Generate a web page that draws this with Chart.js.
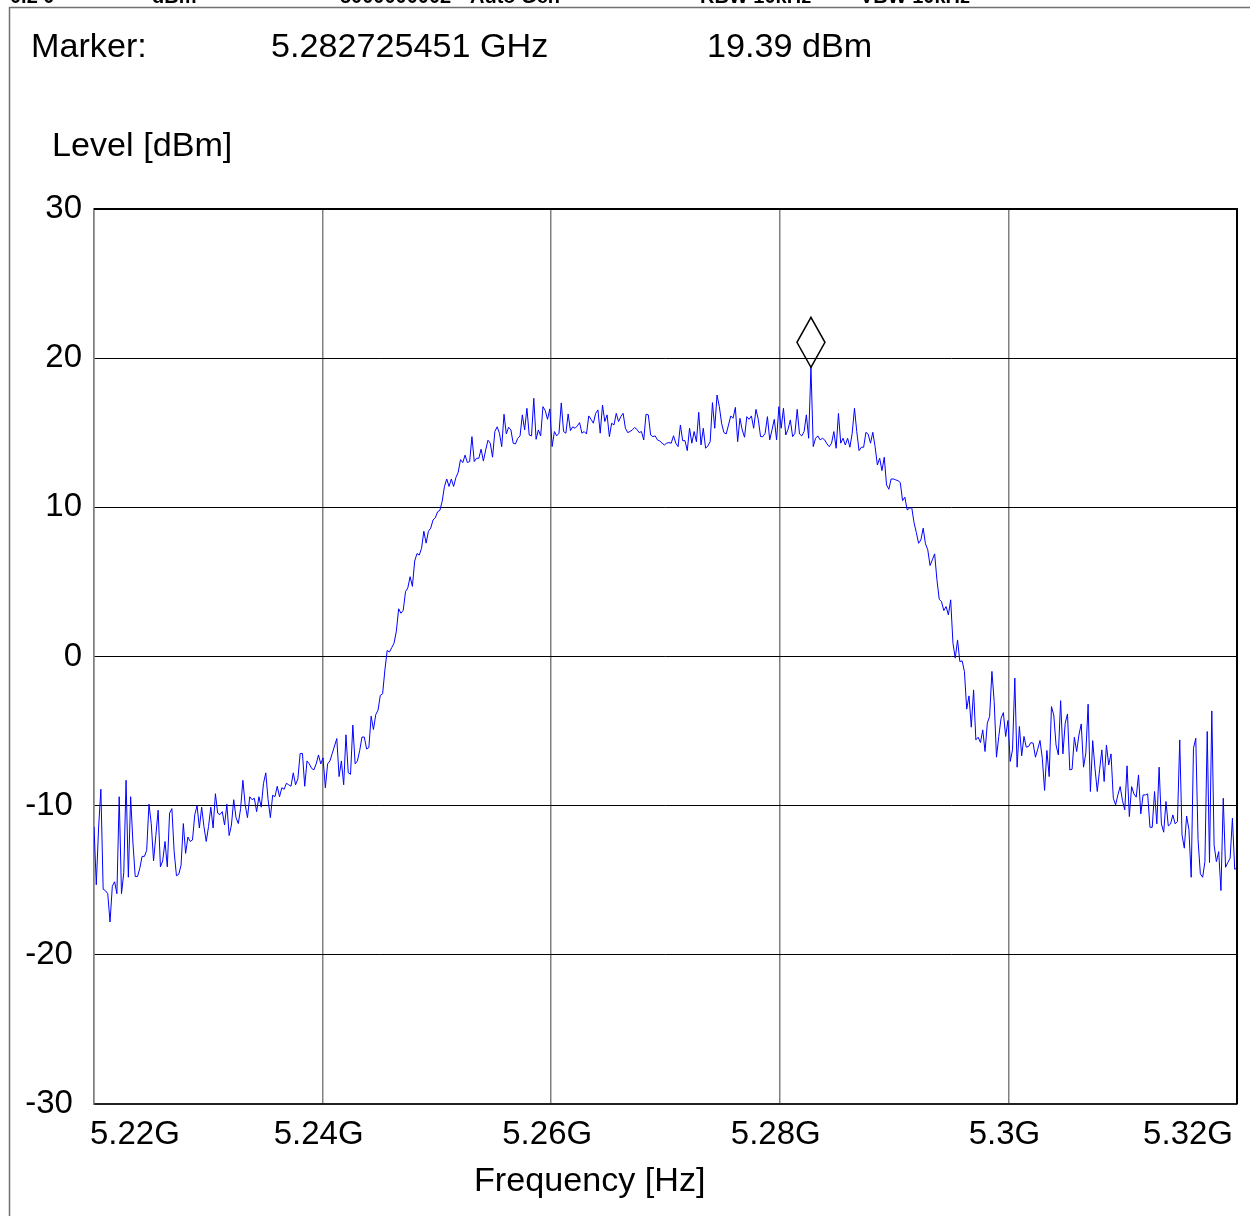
<!DOCTYPE html>
<html>
<head>
<meta charset="utf-8">
<title>Spectrum</title>
<script src="https://cdn.jsdelivr.net/npm/chart.js@4.4.1/dist/chart.umd.min.js"></script>
<style>
  html, body { margin: 0; padding: 0; background: #fff; }
  #wrap { position: relative; width: 1250px; height: 1216px; }
</style>
</head>
<body>
<div id="wrap"><canvas id="spectrum"></canvas></div>
<script>
// sweep: 500 points from 5.22 GHz to 5.32 GHz
var startGHz = 5.22;
var stopGHz = 5.32;
var sweepPoints = 500;

// marker
var markerIndex = 313;
var markerFreqText = '5.282725451 GHz';
var markerLevelText = '19.39 dBm';

// ticks
var xTickValues = [5.22, 5.24, 5.26, 5.28, 5.30, 5.32];
var xTickLabels = ['5.22G', '5.24G', '5.26G', '5.28G', '5.3G', '5.32G'];
var yTickValues = [-30, -20, -10, 0, 10, 20, 30];
var yTickLabels = ['-30', '-20', '-10', '0', '10', '20', '30'];

// level trace in dBm
var levelDbm = [
  -11.4, -15.3, -11.5, -8.9, -15.6, -15.7, -15.9, -17.8, -15.4, -15.1,
  -15.9, -9.4, -15.9, -14.5, -8.3, -14.8, -9.4, -12.5, -14.75, -14.75,
  -14.2, -13.4, -13.4, -13.0, -9.9, -11.2, -13.7, -12.0, -10.3, -14.1,
  -13.7, -12.4, -14.1, -10.5, -10.2, -13.1, -14.7, -14.6, -14.0, -11.2,
  -13.2, -12.1, -12.4, -12.3, -10.6, -10.0, -11.5, -10.1, -11.4, -12.4,
  -11.4, -10.1, -11.5, -9.2, -10.5, -10.6, -10.4, -11.3, -9.9, -12.0,
  -11.3, -9.6, -10.8, -11.2, -10.2, -8.3, -9.95, -10.8, -9.4, -9.6,
  -9.5, -10.4, -9.4, -10.1, -8.5, -7.8, -9.6, -10.8, -9.3, -9.4,
  -8.7, -9.4, -8.8, -8.9, -8.5,
  -8.6, -8.7, -7.8, -8.6, -8.2, -6.5, -6.5, -8.7, -7.0, -7.2,
  -7.5, -7.6, -7.2, -6.6, -7.2, -6.8, -8.8, -7.2, -7.0, -6.5,
  -6.0, -5.5, -8.05, -7.0, -8.6, -5.25, -7.8, -7.9, -4.6, -7.2,
  -7.0, -6.3, -5.4, -5.4, -6.2, -6.1, -4.0, -4.9, -3.9, -3.6,
  -2.6, -2.5, -0.9, 0.4, 0.3, 0.6, 0.9, 1.7, 3.2, 2.9,
  3.1, 4.35, 4.6, 5.35, 4.7, 6.4, 6.9, 6.8, 7.25, 8.4,
  7.6, 8.4, 8.6, 9.15, 9.3, 9.7, 9.8, 10.4, 11.4, 11.9,
  11.4, 11.9, 11.4, 12.0, 12.35, 13.2, 13.0, 13.5, 13.0,
  13.07, 14.74, 13.07, 13.29, 13.29, 13.9, 13.1, 13.85, 14.5, 14.3,
  13.36, 15.08, 15.4, 14.97, 14.07, 16.24, 14.92, 15.37, 15.19, 14.3,
  14.25, 14.63, 14.79, 16.2, 15.19, 16.64, 14.85, 14.79, 17.31, 14.56,
  15.19, 14.79, 16.75, 16.48, 15.9, 16.6, 14.07, 15.08, 14.79, 14.97,
  17.0, 15.08, 14.97, 16.26, 15.14, 15.4, 15.3, 15.46, 15.68, 14.97,
  15.08, 14.92, 16.13, 15.9, 15.64, 16.3, 16.53, 14.97, 16.86, 15.75,
  16.2, 14.74, 15.64, 15.52, 16.3, 15.75, 16.08, 16.3, 15.3, 15.01,
  15.08, 15.19, 15.35, 15.23, 15.01, 15.08, 14.52, 16.24, 16.2, 14.85,
  14.74, 14.79, 14.52, 14.45,
  14.3, 14.18, 14.3, 14.34, 14.3, 14.8, 14.3, 14.07, 15.52, 14.47,
  14.47, 13.8, 15.3, 14.3, 15.08, 14.4, 16.37, 14.18, 15.3, 13.96,
  14.12, 14.4, 17.02, 15.3, 17.53, 16.75, 15.63, 15.01, 14.92, 15.52,
  16.13, 15.97, 16.7, 14.4, 15.97, 15.19, 14.7, 16.08, 15.9, 16.13,
  15.3, 16.57, 15.9, 14.74, 14.74, 14.96, 16.08, 14.52, 15.19, 15.9,
  14.52, 16.75, 15.3, 16.64, 14.85, 15.23, 15.86, 14.74, 14.96, 16.57,
  14.92, 14.79, 15.08, 16.2, 14.63, 19.39,
  14.07, 14.63, 14.79, 14.52, 14.63, 14.52, 14.25, 14.07, 14.3, 15.08,
  13.96, 16.3, 14.3, 14.63, 14.18, 14.63, 14.03, 14.96, 16.64,
  15.08, 13.8, 14.03, 14.03, 15.03, 14.9, 14.3, 15.03, 14.07, 12.84,
  13.29, 12.46, 13.36, 11.5, 11.21, 11.9, 11.9, 11.84, 11.79, 11.66,
  10.45, 10.68, 9.83, 9.94, 9.98, 8.98, 8.31, 7.59, 7.82, 8.6,
  7.55, 7.15, 6.1, 6.48, 6.88, 5.14, 3.84, 3.68, 3.08, 3.35,
  2.79, 3.8, 0.89, -0.11, 1.11, -0.34, -0.29, -1.0, -3.53, -2.64,
  -4.74, -2.24, -5.59, -5.41, -5.77, -4.92, -6.37, -4.47, -4.02, -1.0,
  -3.02, -6.75, -5.36, -4.14, -3.76, -5.36, -4.29, -7.04, -6.26, -1.45,
  -7.42, -4.69, -6.66, -5.36, -6.08, -6.03, -5.77, -5.81, -6.75, -6.21,
  -5.63, -6.82, -8.98, -6.3,
  -8.05, -3.36, -3.92, -5.93, -6.6, -2.96, -6.53, -4.47, -3.85, -7.6,
  -7.56, -5.41, -6.37, -5.26, -4.52, -7.42, -6.48, -3.2, -9.05, -5.64,
  -7.49, -9.05, -7.6, -6.26, -8.38, -5.93, -7.27, -6.53, -9.5, -9.95,
  -9.28, -8.72, -9.66, -10.28, -7.33, -10.73, -8.72, -9.21, -9.43, -7.94,
  -10.55, -9.28, -9.28, -9.21, -11.45, -11.45, -9.05, -11.22, -7.42, -11.22,
  -11.78, -9.72, -11.36, -11.22, -10.62, -11.22, -11.06, -5.59, -11.96, -12.85,
  -10.69, -11.58, -14.8, -6.15, -5.48, -12.29, -14.57, -14.8, -13.75, -5.03,
  -13.81, -3.65, -12.63, -13.75, -13.08, -15.69, -9.5, -14.13, -13.81, -13.52,
  -10.84, -14.26, -14.19
];

var fontFamily = '"Liberation Sans", Arial, sans-serif';
var stepGHz = (stopGHz - startGHz) / (sweepPoints - 1);
var points = levelDbm.map(function(v, i) {
  return { x: startGHz + i * stepGHz, y: v };
});

// the instrument font is a little wider than Liberation Sans
function wideText(ctx, text, x, y) {
  ctx.save();
  ctx.translate(x, y);
  ctx.scale(1.035, 1);
  ctx.fillText(text, 0, 0);
  ctx.restore();
}

// frame, header, marker readout, axis titles and the marker diamond
var spectrumDecor = {
  id: 'spectrumDecor',
  afterDraw: function(chart) {
    var ctx = chart.ctx;
    var a = chart.chartArea;
    ctx.save();

    // outer frame (only left and top visible)
    ctx.strokeStyle = '#707070';
    ctx.lineWidth = 1.5;
    ctx.beginPath();
    ctx.moveTo(9.5, 1216);
    ctx.lineTo(9.5, 7.5);
    ctx.lineTo(1250, 7.5);
    ctx.stroke();

    // top and right border of the plot
    ctx.strokeStyle = '#000';
    ctx.lineWidth = 2;
    ctx.beginPath();
    ctx.moveTo(a.left, a.top);
    ctx.lineTo(a.right, a.top);
    ctx.lineTo(a.right, a.bottom);
    ctx.stroke();

    // header line, cut off at the top of the page
    ctx.fillStyle = '#000';
    ctx.textBaseline = 'alphabetic';
    ctx.textAlign = 'left';
    ctx.font = 'bold 20px ' + fontFamily;
    ctx.fillText('0.2 0', 10, 3);
    ctx.fillText('dBm', 152, 3);
    ctx.fillText('5000000002', 340, 3);
    ctx.fillText('Auto Gen', 470, 3);
    ctx.fillText('RBW 10kHz', 700, 3);
    ctx.fillText('VBW 10kHz', 860, 3);

    ctx.font = '33px ' + fontFamily;
    wideText(ctx, 'Marker:', 31, 57);
    wideText(ctx, markerFreqText, 271, 57);
    wideText(ctx, markerLevelText, 707, 57);
    wideText(ctx, 'Level [dBm]', 52, 156);
    wideText(ctx, 'Frequency [Hz]', 474, 1191);

    // marker diamond sitting on the peak
    var px = chart.scales.x.getPixelForValue(points[markerIndex].x);
    var py = chart.scales.y.getPixelForValue(points[markerIndex].y);
    ctx.strokeStyle = '#000';
    ctx.lineWidth = 1.5;
    ctx.beginPath();
    ctx.moveTo(px, py);
    ctx.lineTo(px + 14, py - 25);
    ctx.lineTo(px, py - 50);
    ctx.lineTo(px - 14, py - 25);
    ctx.closePath();
    ctx.stroke();

    ctx.restore();
  }
};

var ctx = document.getElementById('spectrum').getContext('2d');
var spectrumChart = new Chart(ctx, {
  type: 'line',
  data: {
    datasets: [{
      label: 'Level',
      data: points,
      borderColor: '#0000ff',
      borderWidth: 1,
      pointRadius: 0,
      tension: 0,
      fill: false
    }]
  },
  options: {
    responsive: true,
    maintainAspectRatio: false,
    animation: false,
    layout: { padding: { left: 0, right: 13, top: 209, bottom: 52 } },
    plugins: {
      legend: { display: false },
      tooltip: { enabled: false }
    },
    scales: {
      x: {
        type: 'linear',
        min: startGHz,
        max: stopGHz,
        afterBuildTicks: function(scale) {
          scale.ticks = xTickValues.map(function(v) { return { value: v }; });
        },
        afterFit: function(scale) { scale.height = 60; },
        ticks: {
          autoSkip: false,
          maxRotation: 0,
          align: 'inner',
          labelOffset: -4,
          padding: 11,
          color: '#000',
          font: { family: fontFamily, size: 33 },
          callback: function(value, index) { return xTickLabels[index]; }
        },
        grid: { color: '#808080', lineWidth: 1.5, drawTicks: false },
        border: { color: '#222', width: 2 }
      },
      y: {
        min: -30,
        max: 30,
        afterBuildTicks: function(scale) {
          scale.ticks = yTickValues.map(function(v) { return { value: v }; });
        },
        afterFit: function(scale) { scale.width = 94; },
        ticks: {
          padding: 12,
          color: '#000',
          font: { family: fontFamily, size: 33 },
          callback: function(value, index) {
            // negative labels sit a bit further left on the original
            return yTickValues[index] < 0 ? yTickLabels[index] + ' ' : yTickLabels[index];
          }
        },
        grid: { color: '#000', lineWidth: 1, drawTicks: false },
        border: { color: '#808080', width: 1.5 }
      }
    }
  },
  plugins: [spectrumDecor]
});
</script>
</body>
</html>
